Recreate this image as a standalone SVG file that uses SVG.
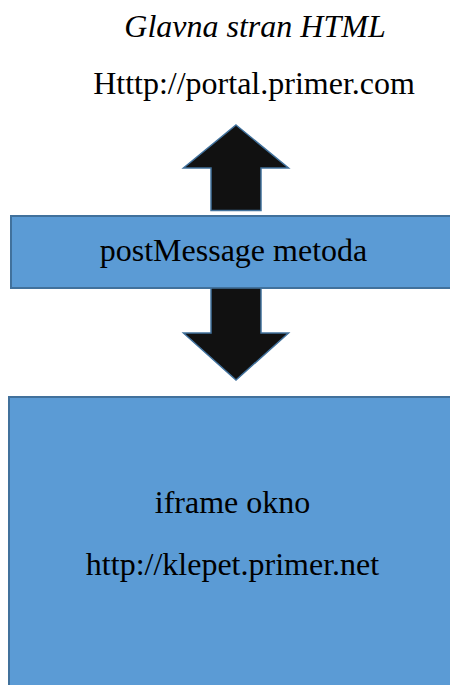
<svg xmlns="http://www.w3.org/2000/svg" width="450" height="685" viewBox="0 0 450 685">
<style>
.box{fill:#5B9BD5;stroke:#41719C;stroke-width:2}
.arrow{fill:#111111;stroke:#41719C;stroke-width:1.5;stroke-linejoin:miter}
.t{font-family:'Liberation Serif','Times New Roman',Times,'DejaVu Serif',serif;font-size:32px;fill:#000;text-anchor:middle}
.it{font-style:italic}
</style>
<rect width="450" height="685" fill="#ffffff"/>
<g id="title">
<text class="t it" x="255" y="37" font-family="Liberation Serif, serif">Glavna stran HTML</text>
<text class="t" x="254" y="94" font-family="Liberation Serif, serif">Htttp://portal.primer.com</text>
</g>
<g id="postmessage">
<rect class="box" x="11" y="216" width="450" height="72"/>
<text class="t" x="233.5" y="261" font-family="Liberation Serif, serif">postMessage metoda</text>
</g>
<g id="iframe">
<rect class="box" x="9" y="397" width="450" height="300"/>
<text class="t" x="232.5" y="513" font-family="Liberation Serif, serif">iframe okno</text>
<text class="t" x="232.5" y="575" font-family="Liberation Serif, serif">http://klepet.primer.net</text>
</g>
<g id="connectors">
<polygon class="arrow" points="236,125 288.5,168 261,168 261,210.5 211,210.5 211,168 183.5,168"/>
<polygon class="arrow" points="211,288 261,288 261,333 288.5,333 236,380 183.5,333 211,333"/>
</g>
</svg>
